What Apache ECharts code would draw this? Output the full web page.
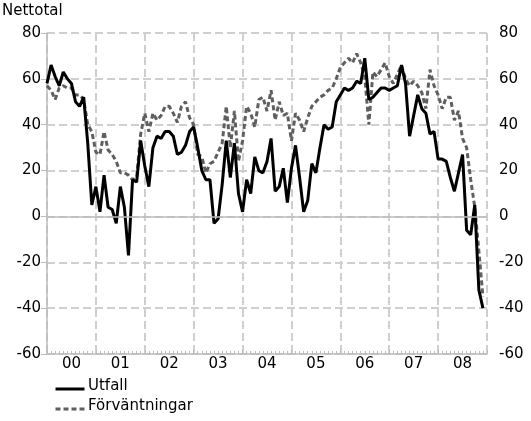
<!DOCTYPE html>
<html>
<head>
<meta charset="utf-8">
<script src="https://cdn.jsdelivr.net/npm/echarts@6/dist/echarts.min.js"></script>
<style>
  html, body { margin: 0; padding: 0; background: #fff; }
  #chart { width: 531px; height: 421px; }
</style>
</head>
<body>
<div id="chart"></div>
<script>
// år på x-axeln (etiketter mitt i varje år)
const years = ['00', '01', '02', '03', '04', '05', '06', '07', '08'];
const yTicks = [-60, -40, -20, 0, 20, 40, 60, 80];

// månadsvärden jan 2000 - dec 2008
const utfall = [
  58, 66, 61, 57, 63, 60, 58, 50, 48, 52, 32, 5,
  13, 2, 18, 4, 3, -3, 13, 4, -17, 16, 15, 33,
  22, 13, 30, 35, 34, 37, 37, 35, 27, 28, 31, 37,
  39, 30, 20, 16, 16, -3, -1, 14, 33, 17, 32, 10,
  2, 16, 10, 26, 20, 19, 24, 34, 11, 13, 21, 6,
  21, 31, 17, 2, 7, 23, 19, 30, 40, 38, 39, 50,
  53, 56, 55, 56, 59, 58, 69, 51, 52, 54, 56, 56,
  55, 56, 57, 66, 58, 35, 44, 53, 47, 45, 36, 37,
  25, 25, 24, 17, 11, 19, 27, -6, -8, 5, -32, -40
];
const forvantningar = [
  57, 55, 51, 56, 57, 56, 56, 53, 53, 51, 40, 37,
  28, 27, 37, 29, 27, 24, 19, 19, 18, 16, 17, 36,
  45, 37, 45, 42, 44, 48, 48, 45, 41, 48, 50, 43,
  40, 27, 26, 19, 23, 24, 28, 32, 48, 30, 46, 24,
  33, 48, 45, 39, 51, 52, 46, 55, 42, 50, 44, 45,
  33, 45, 42, 37, 43, 48, 50, 52, 53, 55, 56, 60,
  65, 67, 69, 67, 71, 67, 61, 40, 63, 61, 64, 67,
  61, 58, 62, 66, 60, 57, 59, 57, 54, 47, 64, 57,
  53, 47, 52, 52, 42, 46, 34, 30, 16, 4, -15, -35
];

const font = 'DejaVu Sans';
const gridCol = '#cfcfcf';
const axisCol = '#bdbdbd';
const solidStyle = { color: '#000', width: 3 };
const dashStyle = { color: '#5f5f5f', width: 3, type: [5, 3] };

const chart = echarts.init(document.getElementById('chart'));

// egen teckenförklaring (lodrät, nere till vänster)
function legendItem(y, name, style) {
  return [{
    type: 'line', left: 53, top: y - 1.5,
    shape: { x1: 0, y1: 0, x2: 29, y2: 0 },
    style: { stroke: style.color, lineWidth: style.width, lineDash: style.type === undefined ? null : style.type }
  }, {
    type: 'text', left: 88, top: y - 9,
    style: { text: name, font: '15px ' + font, fill: '#000' }
  }];
}

chart.setOption({
  animation: false,
  backgroundColor: '#fff',
  textStyle: { fontFamily: font },
  grid: { left: 47, right: 44, top: 33, bottom: 67 },
  graphic: [{
    type: 'text', left: 2, top: 4,
    style: { text: 'Nettotal', font: '15px ' + font, fill: '#000' }
  }].concat(legendItem(388, 'Utfall', solidStyle), legendItem(408, 'Förväntningar', dashStyle)),
  xAxis: [{
    type: 'value', min: 0, max: 108, interval: 12,
    axisLine: { show: true, onZero: false, lineStyle: { color: axisCol, width: 1.5 } },
    axisTick: { show: true, inside: true, length: 4, lineStyle: { color: axisCol } },
    minorTick: { show: true, splitNumber: 12, length: 3, lineStyle: { color: axisCol } },
    axisLabel: { show: false },
    splitLine: { show: true, lineStyle: { color: gridCol, width: 2, type: [8, 4] } }
  }, {
    type: 'value', min: 0, max: 108, interval: 6, position: 'bottom',
    axisLine: { show: false }, axisTick: { show: false }, splitLine: { show: false },
    axisLabel: {
      margin: 3, fontSize: 15, color: '#000', fontFamily: font,
      formatter: v => (v % 12 === 6 ? years[(v - 6) / 12] : '')
    }
  }],
  yAxis: [{
    type: 'value', min: yTicks[0], max: yTicks[yTicks.length - 1], interval: 20,
    axisLine: { show: true, lineStyle: { color: axisCol, width: 1.5 } },
    axisTick: { show: true, length: 6, lineStyle: { color: axisCol } },
    axisLabel: { margin: 6, fontSize: 15, color: '#000', fontFamily: font },
    splitLine: { show: true, lineStyle: { color: gridCol, width: 2, type: [8, 4] } }
  }, {
    type: 'value', min: yTicks[0], max: yTicks[yTicks.length - 1], interval: 20, position: 'right',
    axisLine: { show: false }, axisTick: { show: false },
    axisLabel: { margin: 12, fontSize: 15, color: '#000', fontFamily: font },
    splitLine: { show: false }
  }],
  series: [{
    name: 'Förväntningar', type: 'line', symbol: 'none', z: 3,
    data: forvantningar.map((v, i) => [i, v]),
    lineStyle: dashStyle,
    markLine: {
      silent: true, symbol: 'none', label: { show: false },
      lineStyle: { color: axisCol, width: 1.5, type: 'solid' },
      data: [{ yAxis: 0 }]
    }
  }, {
    name: 'Utfall', type: 'line', symbol: 'none', z: 4,
    data: utfall.map((v, i) => [i, v]),
    lineStyle: solidStyle
  }]
});
</script>
</body>
</html>
